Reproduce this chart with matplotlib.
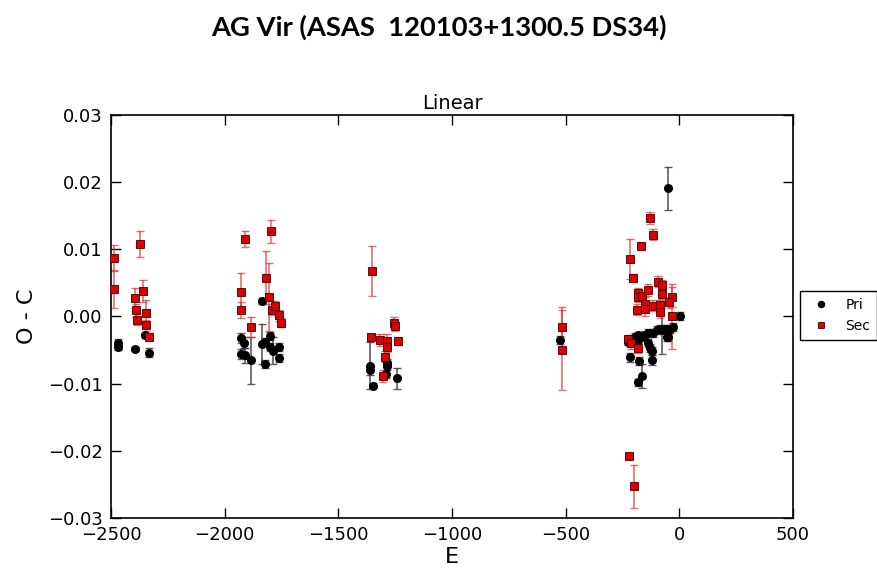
import matplotlib
matplotlib.use('Agg')
import matplotlib.pyplot as plt

# --- Primary minima (E, O-C, error)
pri_E = [-2471, -2471, -2394, -2352, -2333,
         -1926, -1915, -1926, -1909, -1882, -1836, -1837, -1821, -1822, -1802, -1799, -1787, -1761, -1761,
         -1359, -1359, -1347, -1284, -1284, -1291, -1242,
         -523,
         -225, -218, -210, -196, -184, -181, -181, -177, -166, -164, -152, -137, -137, -130, -122, -120,
         -115, -100, -86, -76, -64, -56, -49, -52, -42, -27, 2]
pri_oc = [-0.0039, -0.0045, -0.0048, -0.0028, -0.0054,
          -0.0032, -0.0039, -0.0056, -0.0058, -0.0065, 0.0023, -0.0041, -0.0038, -0.0071, -0.0045, -0.0029, -0.0051, -0.0045, -0.0062,
          -0.0073, -0.0080, -0.0103, -0.0069, -0.0073, -0.0086, -0.0092,
          -0.0035,
          -0.0038, -0.0061, -0.0033, -0.0030, -0.0098, -0.0028, -0.0035, -0.0066, -0.0030, -0.0089, -0.0028, -0.0025, -0.0040, -0.0047, -0.0052, -0.0065,
          -0.0024, -0.0020, -0.0019, -0.0020, -0.0018, -0.0030, -0.0031, 0.0191, -0.0018, -0.0015, 0.0001]
pri_err = [0.0005, 0.0005, 0.0003, 0.0004, 0.0007,
           0.0007, 0.0008, 0.0008, 0.0011, 0.0035, 0.0005, 0.0030, 0.0006, 0.0006, 0.0006, 0.0006, 0.0020, 0.0006, 0.0006,
           0.0035, 0.0007, 0.0004, 0.0006, 0.0006, 0.0006, 0.0016,
           0.0006,
           0.0005, 0.0007, 0.0005, 0.0005, 0.0005, 0.0005, 0.0005, 0.0006, 0.0005, 0.0018, 0.0006, 0.0006, 0.0006, 0.0006, 0.0006, 0.0007,
           0.0006, 0.0006, 0.0006, 0.0036, 0.0006, 0.0006, 0.0006, 0.0032, 0.0006, 0.0006, 0.0006]

# --- Secondary minima
sec_E = [-2488, -2486, -2374, -2393, -2391, -2385, -2361, -2346, -2347, -2331,
         -1910, -1794, -1929, -1926, -1882, -1818, -1805, -1792, -1778, -1762, -1753,
         -1354, -1357, -1318, -1286, -1284, -1296, -1303, -1255, -1250, -1239,
         -516, -518,
         -130, -118, -169, -218, -205, -184, -184, -164, -140, -92, -78, -78, -34, -46,
         -186, -152, -150, -115, -86, -86, -32, -225, -213, -180, -222, -199]
sec_oc = [0.0087, 0.0041, 0.0108, 0.0028, 0.0009, -0.0005, 0.0038, 0.0005, -0.0013, -0.0030,
          0.0116, 0.0127, 0.0036, 0.0010, -0.0016, 0.0058, 0.0029, 0.0010, 0.0015, 0.0002, -0.0009,
          0.0068, -0.0030, -0.0035, -0.0036, -0.0045, -0.0060, -0.0089, -0.0009, -0.0014, -0.0036,
          -0.0016, -0.0050,
          0.0146, 0.0122, 0.0105, 0.0086, 0.0057, 0.0035, 0.0029, 0.0031, 0.0039, 0.0052, 0.0047, 0.0034, 0.0029, 0.0021,
          0.0010, 0.0019, 0.0011, 0.0016, 0.0017, 0.0006, 0.0000, -0.0033, -0.0040, -0.0047, -0.0207, -0.0253]
sec_err = [0.0020, 0.0028, 0.0020, 0.0015, 0.0010, 0.0008, 0.0016, 0.0020, 0.0008, 0.0005,
           0.0012, 0.0017, 0.0029, 0.0012, 0.0015, 0.0040, 0.0050, 0.0008, 0.0008, 0.0008, 0.0006,
           0.0037, 0.0004, 0.0009, 0.0010, 0.0008, 0.0008, 0.0009, 0.0008, 0.0007, 0.0006,
           0.0030, 0.0060,
           0.0009, 0.0008, 0.0005, 0.0030, 0.0006, 0.0008, 0.0007, 0.0008, 0.0009, 0.0008, 0.0008, 0.0008, 0.0015, 0.0008,
           0.0008, 0.0010, 0.0010, 0.0008, 0.0008, 0.0008, 0.0049, 0.0006, 0.0008, 0.0008, 0.0003, 0.0032]

x_ticks = [-2500, -2000, -1500, -1000, -500, 0, 500]
y_ticks = [-0.03, -0.02, -0.01, 0.00, 0.01, 0.02, 0.03]

fig = plt.figure(figsize=(8.78, 5.77), dpi=100)
ax = fig.add_axes([0.1264, 0.1023, 0.7768, 0.6984])

# errorbars first, markers on top
ax.errorbar(pri_E, pri_oc, yerr=pri_err, fmt='none', ecolor='#333333', alpha=0.8,
            elinewidth=1.2, capsize=3, capthick=1.0)
ax.errorbar(sec_E, sec_oc, yerr=sec_err, fmt='none', ecolor='#e03030', alpha=0.7,
            elinewidth=1.2, capsize=3, capthick=1.0)
ax.plot(pri_E, pri_oc, 'o', color='black', markersize=5.5, label='Pri', zorder=3)
ax.plot(sec_E, sec_oc, 's', color='#dd0000', markeredgecolor='#330000', markeredgewidth=0.6,
        markersize=5.5, label='Sec', zorder=4)

ax.set_xlim(-2500, 500)
ax.set_ylim(-0.03, 0.03)
ax.set_xticks(x_ticks)
ax.set_yticks(y_ticks)
ax.set_yticklabels(['\u22120.03', '\u22120.02', '\u22120.01', '0.00', '0.01', '0.02', '0.03'])
ax.set_xticklabels(['\u22122500', '\u22122000', '\u22121500', '\u22121000', '\u2212500', '0', '500'])
ax.tick_params(direction='in', length=7, width=1, top=True, right=True, labelsize=13, pad=6)
for s in ax.spines.values():
    s.set_linewidth(1.2)

ax.set_title('Linear', fontsize=14, pad=4)
ax.set_xlabel('E', fontsize=16, labelpad=2)
ax.set_ylabel('O - C', fontsize=16, labelpad=8)

fig.legend(loc='center left', bbox_to_anchor=(0.903, 0.453), fontsize=10, numpoints=1,
           markerscale=0.8, handlelength=2.0, borderpad=0.5, labelspacing=0.5,
           fancybox=False, edgecolor='black', framealpha=1)

fig.text(0.5, 0.952, 'AG Vir (ASAS  120103+1300.5 DS34)', ha='center', va='center',
         fontsize=19.7, fontweight='bold', family=['Lato', 'DejaVu Sans'])

fig.savefig('out.png', dpi=100)
